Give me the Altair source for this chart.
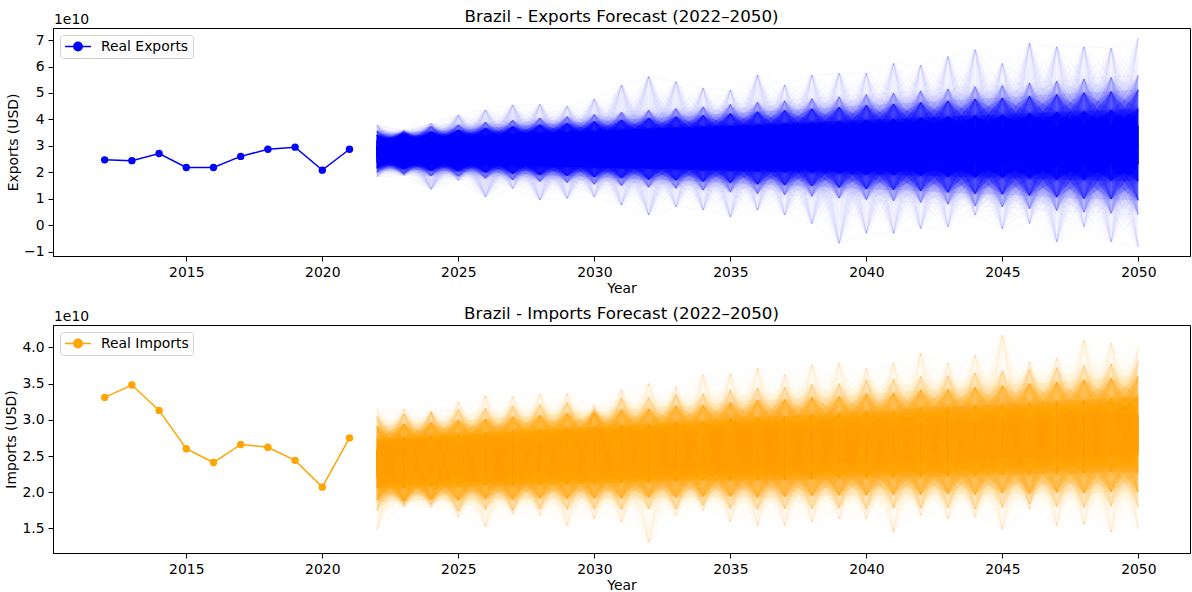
import altair as alt
import pandas as pd

# ---------------- data (all values in units of 1e10 USD) ----------------
real_years = list(range(2012, 2022))
exports_real = [2.47, 2.44, 2.71, 2.18, 2.18, 2.60, 2.87, 2.95, 2.08, 2.87]
imports_real = [3.31, 3.48, 3.13, 2.60, 2.41, 2.66, 2.62, 2.44, 2.07, 2.75]

forecast_years = list(range(2022, 2051))

# simulated export paths summarised per year: extremes, outer tails, tails, shoulders, centre
exp_min = [1.83, 1.88, 1.36, 1.70, 1.07, 1.39, 0.95, 1.01, 1.07, 0.76, 0.38, 0.69, 0.57, 0.31, 0.57,
           0.38, 0.06, -0.69, -0.31, -0.31, -0.13, -0.06, 0.38, -0.13, 0.06, -0.63, -0.06, -0.63, -0.82]
exp_lo4 = [1.99, 1.94, 1.86, 1.84, 1.77, 1.71, 1.65, 1.61, 1.55, 1.49, 1.43, 1.39, 1.32, 1.25, 1.19,
           1.15, 1.09, 1.02, 0.96, 0.92, 0.86, 0.79, 0.72, 0.69, 0.62, 0.55, 0.49, 0.45, 0.39]
exp_lo3 = [2.15, 2.12, 2.06, 2.04, 1.99, 1.95, 1.90, 1.87, 1.82, 1.78, 1.73, 1.70, 1.65, 1.60, 1.55,
           1.52, 1.48, 1.42, 1.37, 1.34, 1.30, 1.24, 1.19, 1.17, 1.12, 1.06, 1.01, 0.99, 0.94]
exp_lo2 = [2.37, 2.35, 2.31, 2.31, 2.28, 2.25, 2.22, 2.21, 2.18, 2.15, 2.13, 2.11, 2.07, 2.05, 2.02,
           2.00, 1.98, 1.94, 1.91, 1.90, 1.87, 1.83, 1.80, 1.79, 1.76, 1.72, 1.70, 1.68, 1.65]
exp_lo1 = [2.57, 2.57, 2.55, 2.55, 2.54, 2.53, 2.52, 2.52, 2.51, 2.50, 2.49, 2.49, 2.47, 2.46, 2.45,
           2.45, 2.44, 2.42, 2.41, 2.41, 2.40, 2.38, 2.37, 2.37, 2.36, 2.34, 2.33, 2.32, 2.31]
exp_mid = [2.78, 2.80, 2.80, 2.82, 2.83, 2.84, 2.85, 2.86, 2.87, 2.88, 2.89, 2.90, 2.90, 2.91, 2.92,
           2.93, 2.94, 2.94, 2.95, 2.96, 2.97, 2.97, 2.98, 2.99, 3.00, 3.00, 3.01, 3.02, 3.03]
exp_hi1 = [2.99, 3.03, 3.05, 3.09, 3.12, 3.15, 3.18, 3.20, 3.23, 3.26, 3.29, 3.31, 3.33, 3.36, 3.39,
           3.41, 3.44, 3.46, 3.49, 3.51, 3.54, 3.56, 3.59, 3.61, 3.64, 3.66, 3.69, 3.72, 3.75]
exp_hi2 = [3.19, 3.25, 3.29, 3.33, 3.38, 3.43, 3.48, 3.51, 3.56, 3.61, 3.65, 3.69, 3.73, 3.77, 3.82,
           3.86, 3.90, 3.94, 3.99, 4.02, 4.07, 4.11, 4.16, 4.19, 4.24, 4.28, 4.32, 4.36, 4.41]
exp_hi3 = [3.41, 3.48, 3.54, 3.60, 3.67, 3.73, 3.80, 3.85, 3.92, 3.98, 4.05, 4.10, 4.15, 4.22, 4.29,
           4.34, 4.40, 4.46, 4.53, 4.58, 4.64, 4.70, 4.77, 4.81, 4.88, 4.94, 5.01, 5.05, 5.12]
exp_hi4 = [3.57, 3.55, 3.74, 3.80, 3.89, 3.97, 4.05, 4.11, 4.19, 4.27, 4.35, 4.41, 4.48, 4.57, 4.65,
           4.71, 4.79, 4.86, 4.94, 5.00, 5.08, 5.15, 5.24, 5.29, 5.38, 5.45, 5.53, 5.59, 5.67]
exp_max = [3.79, 3.60, 3.85, 4.17, 4.36, 4.55, 4.57, 4.50, 4.77, 5.30, 5.62, 5.43, 5.18, 5.11, 5.68,
           5.30, 5.68, 5.75, 5.75, 6.12, 6.06, 6.38, 6.63, 6.12, 6.88, 6.75, 6.75, 6.69, 7.07]

# simulated import paths summarised the same way
imp_min = [1.49, 1.79, 1.79, 1.66, 1.52, 1.70, 1.68, 1.54, 1.63, 1.59, 1.31, 1.68, 1.75, 1.59, 1.54,
           1.54, 1.59, 1.63, 1.63, 1.45, 1.68, 1.63, 1.66, 1.49, 1.77, 1.54, 1.56, 1.45, 1.50]
imp_lo4 = [1.75, 1.83, 1.83, 1.74, 1.76, 1.75, 1.77, 1.76, 1.77, 1.76, 1.77, 1.77, 1.82, 1.77, 1.76,
           1.77, 1.77, 1.78, 1.77, 1.78, 1.78, 1.79, 1.77, 1.79, 1.84, 1.80, 1.79, 1.81, 1.79]
imp_lo3 = [1.89, 1.88, 1.90, 1.89, 1.91, 1.90, 1.92, 1.91, 1.92, 1.92, 1.93, 1.93, 1.94, 1.94, 1.93,
           1.94, 1.95, 1.96, 1.96, 1.97, 1.97, 1.98, 1.97, 1.99, 1.98, 2.00, 1.99, 2.01, 2.00]
imp_lo2 = [2.06, 2.06, 2.08, 2.08, 2.10, 2.09, 2.11, 2.11, 2.12, 2.13, 2.14, 2.15, 2.16, 2.16, 2.16,
           2.17, 2.18, 2.19, 2.20, 2.21, 2.21, 2.22, 2.22, 2.24, 2.24, 2.26, 2.26, 2.28, 2.27]
imp_lo1 = [2.22, 2.23, 2.25, 2.25, 2.27, 2.27, 2.29, 2.30, 2.31, 2.32, 2.33, 2.35, 2.36, 2.37, 2.37,
           2.38, 2.40, 2.41, 2.42, 2.43, 2.44, 2.45, 2.46, 2.48, 2.48, 2.50, 2.50, 2.52, 2.53]
imp_mid = [2.40, 2.41, 2.43, 2.44, 2.46, 2.47, 2.49, 2.50, 2.51, 2.53, 2.54, 2.56, 2.57, 2.59, 2.60,
           2.61, 2.63, 2.64, 2.66, 2.67, 2.69, 2.70, 2.71, 2.73, 2.74, 2.76, 2.77, 2.79, 2.80]
imp_hi1 = [2.58, 2.59, 2.61, 2.63, 2.65, 2.67, 2.69, 2.70, 2.71, 2.74, 2.75, 2.77, 2.78, 2.81, 2.83,
           2.84, 2.86, 2.87, 2.90, 2.91, 2.94, 2.95, 2.96, 2.98, 3.00, 3.02, 3.04, 3.06, 3.07]
imp_hi2 = [2.74, 2.76, 2.78, 2.80, 2.82, 2.85, 2.87, 2.89, 2.90, 2.93, 2.94, 2.97, 2.98, 3.02, 3.04,
           3.05, 3.08, 3.09, 3.12, 3.13, 3.17, 3.18, 3.20, 3.22, 3.24, 3.26, 3.28, 3.30, 3.33]
imp_hi3 = [2.91, 2.94, 2.96, 2.99, 3.01, 3.04, 3.06, 3.09, 3.10, 3.14, 3.15, 3.19, 3.20, 3.24, 3.27,
           3.28, 3.31, 3.32, 3.36, 3.37, 3.41, 3.42, 3.45, 3.47, 3.50, 3.52, 3.55, 3.57, 3.60]
imp_hi4 = [3.05, 3.08, 3.10, 3.14, 3.16, 3.19, 3.21, 3.24, 3.15, 3.30, 3.31, 3.35, 3.36, 3.41, 3.44,
           3.45, 3.49, 3.50, 3.55, 3.56, 3.60, 3.61, 3.65, 3.67, 3.70, 3.72, 3.75, 3.77, 3.81]
imp_max = [3.15, 3.15, 3.12, 3.25, 3.33, 3.32, 3.36, 3.36, 3.20, 3.41, 3.50, 3.46, 3.62, 3.64, 3.71,
           3.62, 3.76, 3.78, 3.71, 3.78, 3.92, 3.78, 3.89, 4.17, 3.80, 3.85, 4.10, 4.06, 3.99]

exp_levels = [exp_min, exp_lo4, exp_lo3, exp_lo2, exp_lo1, exp_mid,
              exp_hi1, exp_hi2, exp_hi3, exp_hi4, exp_max]
imp_levels = [imp_min, imp_lo4, imp_lo3, imp_lo2, imp_lo1, imp_mid,
              imp_hi1, imp_hi2, imp_hi3, imp_hi4, imp_max]

# share of simulated paths at each level, and in each nested band (inner -> outer)
LEVEL_SHARE = [0.004, 0.015, 0.05, 0.11, 0.19, 0.262, 0.19, 0.11, 0.05, 0.015, 0.004]
BAND_SHARE = [0.35, 0.30, 0.22, 0.10, 0.03]
OUTER_LEVELS = {0, 1, 2, 8, 9, 10}
N_PATHS = 2200          # density used for the shaded fan
N_STROKE_PATHS = 1100   # density used for the visible individual strokes
PATH_ALPHA = 0.1
PATH_WIDTH = 1.5

FONT = "DejaVu Sans"
TXT = 13.9
PLOT_W, PLOT_H = 1137, 228


def coverage(n_lines):
    return 1 - (1 - PATH_ALPHA) ** n_lines


def fan_fill(levels, px_per_unit):
    """Wedges from each level of one year to each nested band of the next year (and back)."""
    bands = [(levels[4 - k], levels[6 + k]) for k in range(5)]
    rows = []
    gid = 0
    for t in range(len(forecast_years) - 1):
        y0, y1 = forecast_years[t], forecast_years[t + 1]
        for i, lvl in enumerate(levels):
            for k, (lo, hi) in enumerate(bands):
                share = N_PATHS * LEVEL_SHARE[i] * BAND_SHARE[k] * PATH_WIDTH
                # forward wedge: one level at t -> whole band at t+1
                h = max((hi[t + 1] - lo[t + 1]) * px_per_unit, 2.0)
                op = min(coverage(share / h), 0.97)
                rows.append({"g": gid, "year": y0, "value": lvl[t], "value2": lvl[t], "op": op})
                rows.append({"g": gid, "year": y1, "value": hi[t + 1], "value2": lo[t + 1], "op": op})
                gid += 1
                # backward wedge: whole band at t -> one level at t+1
                h = max((hi[t] - lo[t]) * px_per_unit, 2.0)
                op = min(coverage(share / h), 0.97)
                rows.append({"g": gid, "year": y0, "value": hi[t], "value2": lo[t], "op": op})
                rows.append({"g": gid, "year": y1, "value": lvl[t + 1], "value2": lvl[t + 1], "op": op})
                gid += 1
    df = pd.DataFrame(rows)
    df["op"] = df["op"].round(4)
    return df


def fan_lines(levels):
    """Faint year-to-year strokes through the tails, giving the individual-path texture."""
    rows = []
    for t in range(len(forecast_years) - 1):
        for i, a in enumerate(levels):
            for j, b in enumerate(levels):
                if i not in OUTER_LEVELS and j not in OUTER_LEVELS:
                    continue
                op = max(0.4 * coverage(N_STROKE_PATHS * LEVEL_SHARE[i] * LEVEL_SHARE[j] / 2), 0.03)
                rows.append({"year": forecast_years[t], "year2": forecast_years[t + 1],
                             "value": a[t], "value2": b[t + 1], "op": round(op, 4)})
    return pd.DataFrame(rows)


def panel(name, real_vals, levels, color, y_domain, y_ticks, y_fmt):
    x = alt.X("year:Q",
              scale=alt.Scale(domain=[2010.1, 2051.9], nice=False, zero=False),
              axis=alt.Axis(values=list(range(2015, 2051, 5)), format="d", title="Year"))
    y = alt.Y("value:Q",
              scale=alt.Scale(domain=y_domain, nice=False, zero=False),
              axis=alt.Axis(values=y_ticks, format=y_fmt, title=f"{name} (USD)"))
    ppu = PLOT_H / (y_domain[1] - y_domain[0])

    # fully overlapped middle of the ensemble
    core = pd.DataFrame({"year": forecast_years, "value": levels[4], "value2": levels[6]})
    core_area = alt.Chart(core).mark_area(color=color, opacity=1).encode(x=x, y=y, y2="value2:Q")

    fill = alt.Chart(fan_fill(levels, ppu)).mark_area(color=color, strokeWidth=0).encode(
        x=x, y=y, y2="value2:Q", detail="g:N", opacity=alt.Opacity("op:Q", scale=None))

    strokes = alt.Chart(fan_lines(levels)).mark_rule(color=color, strokeWidth=1.2).encode(
        x=x, x2="year2:Q", y=y, y2="value2:Q", opacity=alt.Opacity("op:Q", scale=None))

    label = f"Real {name}"
    real = pd.DataFrame({"year": real_years, "value": real_vals, "series": label})
    col = alt.Color("series:N", scale=alt.Scale(domain=[label], range=[color]),
                    legend=alt.Legend(title=None, orient="top-left", offset=7,
                                      symbolType="M-1,0L3,0M1.64,0A0.64,0.64,0,1,1,0.36,0A0.64,0.64,0,1,1,1.64,0Z",
                                      symbolSize=169, symbolStrokeWidth=1.5,
                                      symbolFillColor=color, symbolStrokeColor=color,
                                      labelOffset=22, padding=4, cornerRadius=3,
                                      strokeColor="#d0d0d0", fillColor="white"))
    real_line = alt.Chart(real).mark_line(strokeWidth=1.5).encode(x=x, y=y, color=col)
    real_pts = alt.Chart(real).mark_point(filled=True, size=55, opacity=1).encode(x=x, y=y, color=col)

    heading = alt.Chart(alt.Data(values=[{"t": f"Brazil - {name} Forecast (2022\u20132050)"}])).mark_text(
        align="center", baseline="alphabetic", font=FONT, fontSize=16.7, color="black"
    ).encode(x=alt.value(PLOT_W / 2), y=alt.value(-6), text="t:N")

    offset_txt = alt.Chart(alt.Data(values=[{"t": "1e10"}])).mark_text(
        align="left", baseline="alphabetic", font=FONT, fontSize=TXT, color="black"
    ).encode(x=alt.value(1), y=alt.value(-4), text="t:N")

    return alt.layer(core_area, fill, strokes, real_line, real_pts, heading, offset_txt).properties(
        width=PLOT_W, height=PLOT_H)


top = panel("Exports", exports_real, exp_levels, "#0000ff", [-1.17, 7.46], list(range(-1, 8)), "d")
bottom = panel("Imports", imports_real, imp_levels, "#ffa500", [1.16, 4.31],
               [1.5, 2.0, 2.5, 3.0, 3.5, 4.0], ".1f")

chart = alt.vconcat(top, bottom, spacing=8).resolve_scale(
    color="independent", x="independent", y="independent"
).properties(
    padding={"left": 4, "top": 8, "right": 0, "bottom": 0}
).configure_view(
    stroke="black", strokeWidth=1
).configure_axis(
    grid=False, labelFont=FONT, labelFontSize=TXT, labelColor="black",
    titleFont=FONT, titleFontSize=TXT, titleFontWeight="normal", titleColor="black",
    tickColor="black", domainColor="black", tickSize=5, labelPadding=4, titlePadding=3
).configure_legend(
    labelFont=FONT, labelFontSize=TXT, labelColor="black"
)

chart.save("out.html", embed_options={"renderer": "svg", "actions": False})
